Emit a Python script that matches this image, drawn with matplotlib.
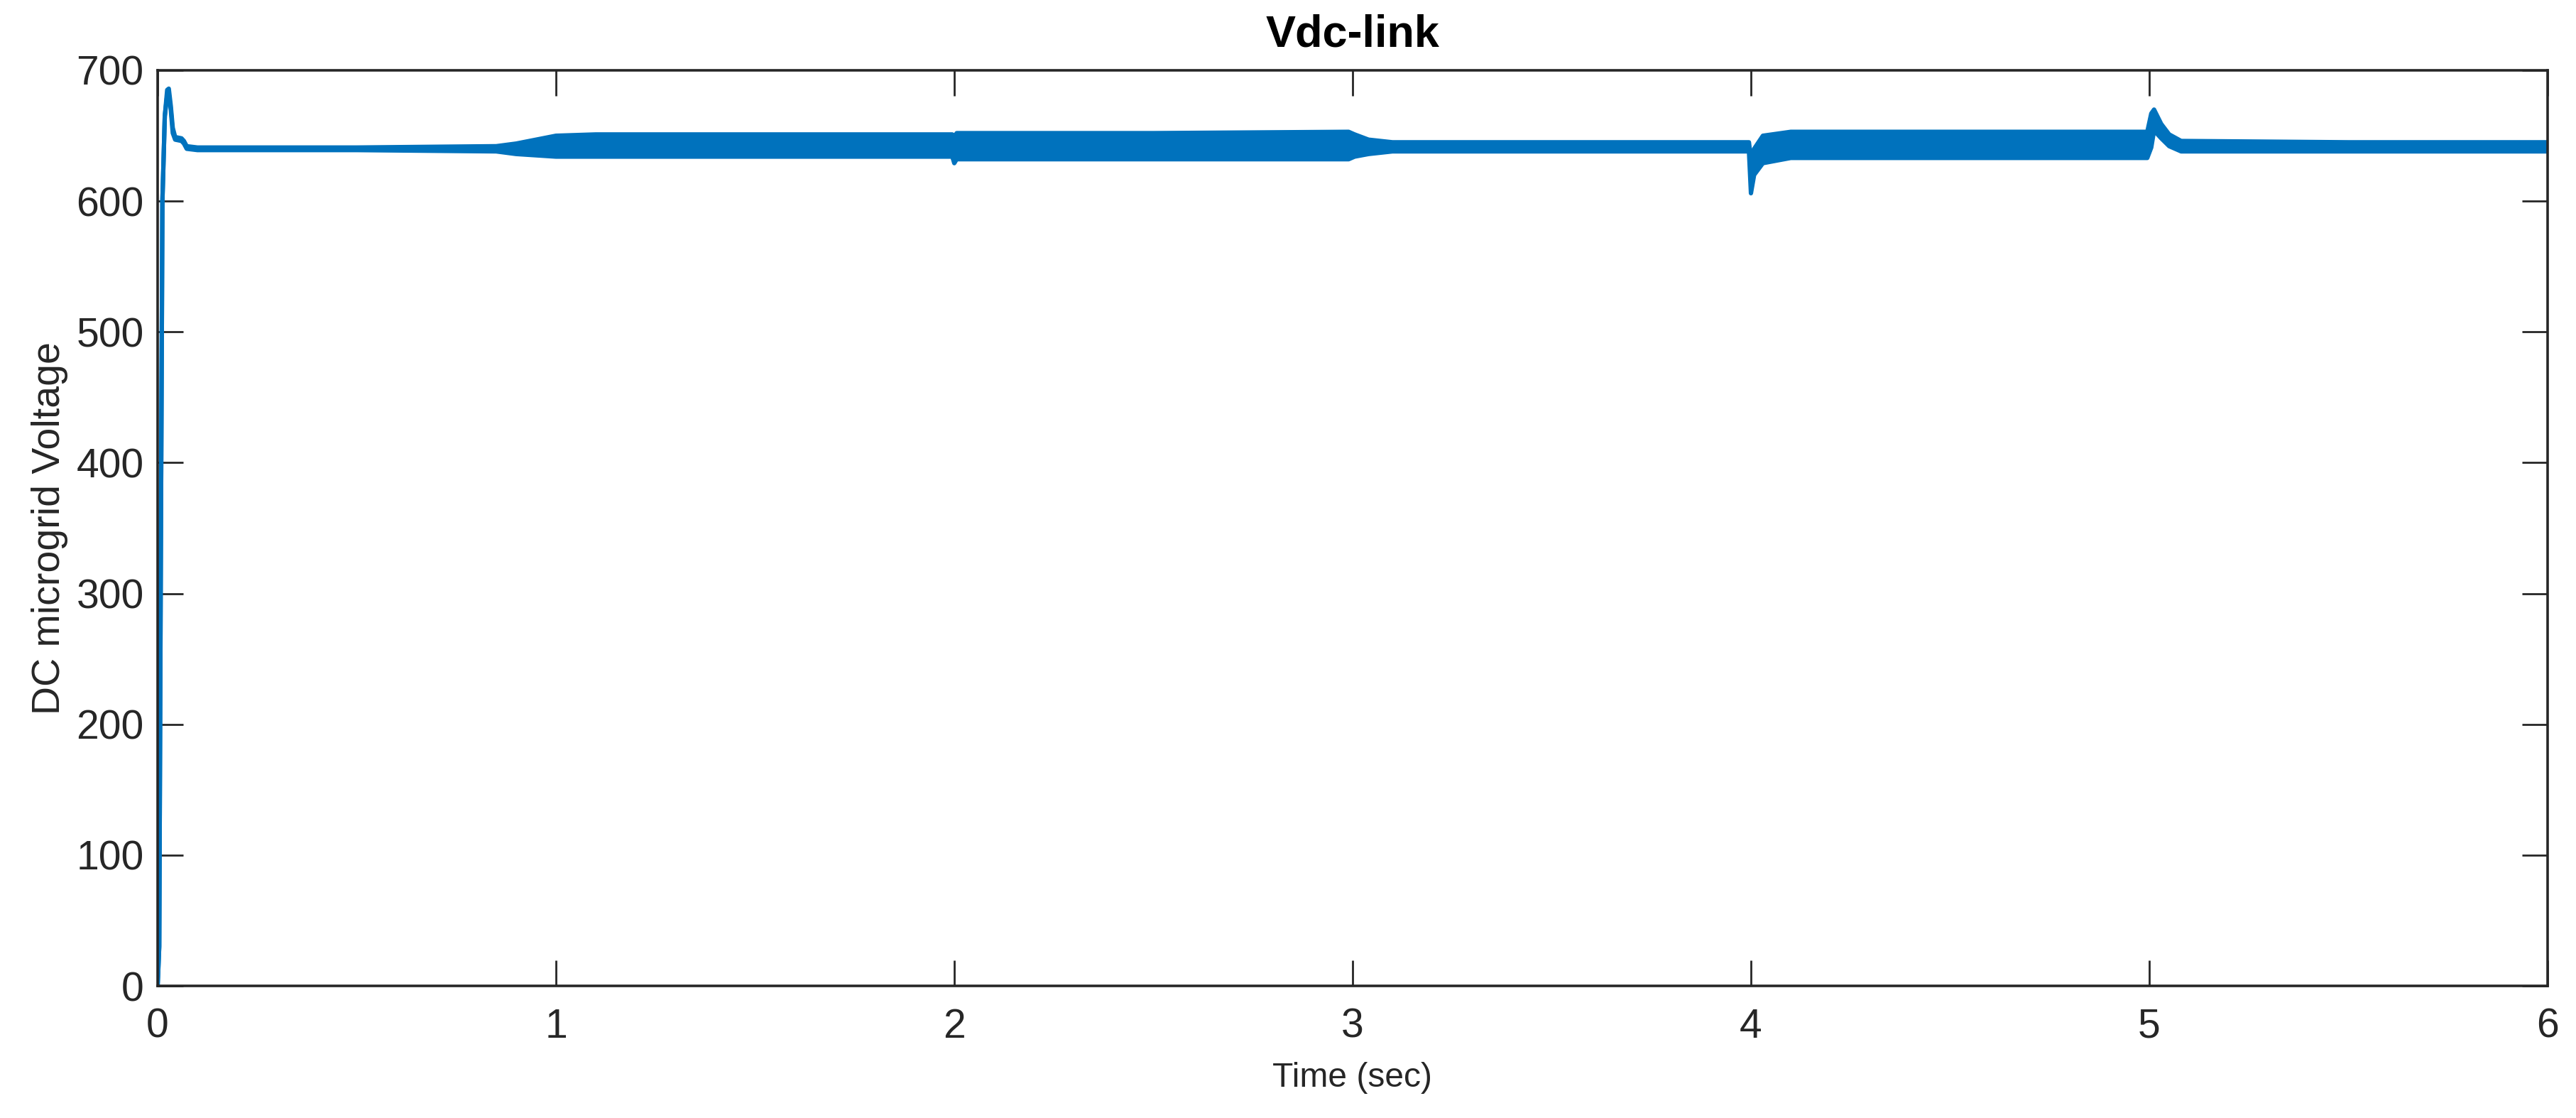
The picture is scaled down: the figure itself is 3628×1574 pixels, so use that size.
import matplotlib
matplotlib.use('Agg')
import matplotlib.pyplot as plt

# Vdc-link trace: time (sec), upper / lower envelope (V)
# the switching ripple shows as a band, so it is kept as two envelopes
time = [0.0, 0.004, 0.008, 0.012, 0.018, 0.024, 0.028, 0.033, 0.038, 0.044,
        0.060, 0.066, 0.073, 0.10, 0.50, 0.85, 0.90, 0.95, 1.00, 1.10,
        1.50, 1.995, 2.000, 2.006, 2.03, 2.50, 2.99, 3.005, 3.04, 3.10,
        3.50, 3.995, 4.000, 4.008, 4.03, 4.10, 4.50, 4.995, 5.005, 5.012,
        5.03, 5.05, 5.08, 5.50, 6.00]
v_upper = [0, 30, 330, 600, 665, 685, 686, 673, 656, 649,
           648, 646, 642, 641, 641, 642, 644, 647, 650, 651,
           651, 651, 649, 652, 652, 652, 653, 651, 647, 645,
           645, 645, 632, 640, 650, 653, 653, 653, 667, 670,
           659, 651, 646, 645, 645]
v_lower = [0, 30, 330, 600, 665, 681, 682, 670, 652, 647,
           646, 644, 640, 639, 639, 638, 636, 635, 634, 634,
           634, 634, 629, 632, 632, 632, 632, 634, 636, 638,
           638, 638, 606, 620, 629, 633, 633, 633, 641, 654,
           648, 642, 638, 638, 638]

plt.rcParams['font.family'] = ['Liberation Sans', 'DejaVu Sans']
txt = '#262626'
blue = '#0072BD'

fig = plt.figure(figsize=(18.14, 7.87), dpi=200)
ax = fig.add_axes([222/3628, 1 - 1388/1574, (3588-222)/3628, (1388-99)/1574])

# ripple band plus its edges
ax.fill_between(time, v_lower, v_upper, color=blue, linewidth=0)
ax.plot(time, v_upper, color=blue, linewidth=2.2)
ax.plot(time, v_lower, color=blue, linewidth=2.2)

ax.set_xlim(0, 6)
ax.set_ylim(0, 700)
ax.set_xticks(range(0, 7))
ax.set_yticks(range(0, 701, 100))

for s in ax.spines.values():
    s.set_color(txt)
    s.set_linewidth(1.3)
ax.tick_params(direction='in', length=13, width=1.0, colors=txt,
               labelsize=20.5, top=True, right=True)
ax.tick_params(axis='x', pad=11)
ax.tick_params(axis='y', pad=7)

ax.set_title('Vdc-link', fontsize=22.7, fontweight='bold', color='black', pad=12)
ax.set_xlabel('Time (sec)', fontsize=17.3, color=txt, labelpad=8)
ax.set_ylabel('DC microgrid Voltage', fontsize=20, color=txt, labelpad=4)

fig.savefig('out.png', dpi=200)
